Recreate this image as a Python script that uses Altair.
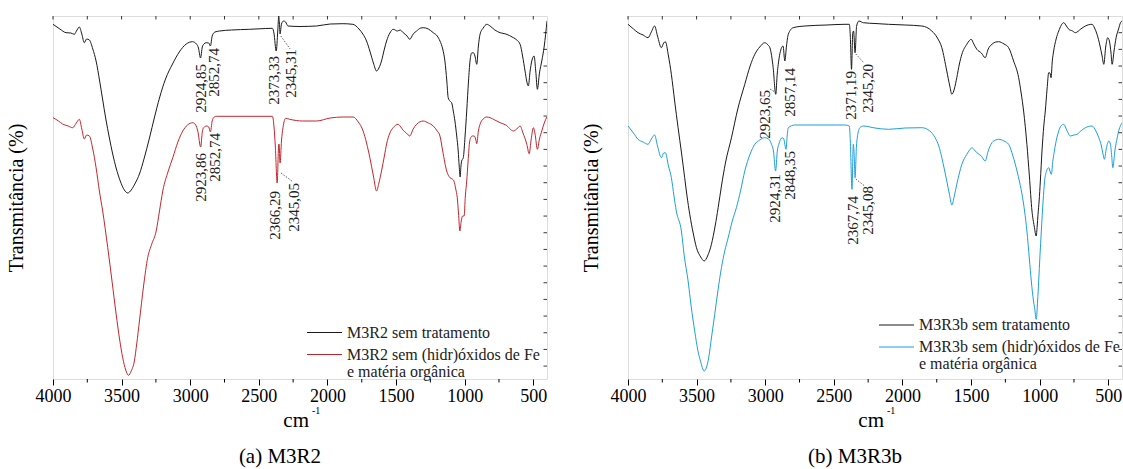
import altair as alt
import pandas as pd

FONT = "Liberation Serif, Times New Roman, DejaVu Serif, serif"

# ---------------- spectra: wavenumber (cm-1) and transmittance (a.u.) ----------------
m3r2_raw_wn = [4000, 3950, 3905, 3870, 3845, 3825, 3808, 3790, 3772, 3755, 3735, 3710, 3686, 3660, 3640,
               3615, 3589, 3565, 3540, 3510, 3480, 3455, 3430, 3400, 3370, 3335, 3297, 3260, 3224, 3180,
               3129, 3080, 3029, 2983, 2955, 2940, 2924.85, 2912, 2900, 2883, 2865, 2852.74, 2840, 2820,
               2786, 2700, 2567, 2450, 2401, 2390, 2373.33, 2362, 2355, 2350, 2345.31, 2335, 2320, 2305,
               2288, 2200, 2080, 1980, 1888, 1815, 1770, 1742, 1715, 1691, 1665, 1642, 1625, 1606, 1585,
               1569, 1545, 1521, 1490, 1470, 1448, 1420, 1400, 1375, 1350, 1320, 1302, 1265, 1229, 1200,
               1180, 1160, 1144, 1130, 1120, 1108, 1095, 1083, 1071, 1058, 1047, 1040, 1033, 1027, 1022,
               1010, 997, 985, 972, 961, 949, 937, 925, 912, 900, 888, 865, 839, 815, 780, 742, 700, 645,
               620, 596, 578, 560, 548, 536, 523, 511, 494, 482, 470, 455, 438, 420, 400]
m3r2_raw_t = [354.7, 350, 346.3, 346, 344.7, 349, 352, 345, 336.3, 340, 339, 330, 318, 298, 281,
              260, 241, 225, 211, 198, 189, 186, 189, 196, 205, 221, 241, 262, 281, 300,
              315, 327, 335, 337.3, 335, 331, 321, 332, 335, 336.3, 336, 333, 343, 347,
              348, 349, 349.7, 350.5, 350.7, 346, 328, 348, 363, 356, 345, 355, 358, 357,
              353, 352.5, 353, 355, 355.3, 354.7, 350, 345, 338, 328, 316, 308, 311, 318, 330,
              338, 346, 349.7, 348, 349, 346.3, 343, 339.7, 345, 348, 351, 351.3, 350, 346.3, 343,
              338, 330, 318, 298, 281.3, 278, 276.3, 268, 258, 243, 228, 213, 202, 213, 218,
              221.3, 243, 268, 298, 318, 326, 326.3, 323, 314.7, 333, 344.7, 351, 354.7, 353, 349, 346.3, 345, 341.3,
              339, 334.7, 323, 308, 298, 293, 308, 318, 323, 308, 289.7, 306, 318, 333, 358]

m3r2_trat_wn = [4000, 3960, 3930, 3890, 3857, 3830, 3808, 3790, 3772, 3755, 3735, 3710, 3686, 3662, 3638,
                3601, 3570, 3540, 3515, 3492, 3470, 3450, 3430, 3407, 3390, 3370, 3340, 3310, 3280, 3248,
                3224, 3200, 3160, 3127, 3090, 3054, 3020, 2981, 2960, 2945, 2923.86, 2912, 2903, 2879, 2865,
                2852.74, 2840, 2825, 2810, 2600, 2401, 2390, 2380, 2366.29, 2356, 2353, 2345.05, 2335, 2324,
                2304, 2275, 2180, 2080, 1980, 1886, 1813, 1775, 1740, 1715, 1691, 1665, 1642, 1625, 1606,
                1585, 1569, 1545, 1521, 1485, 1465, 1448, 1425, 1400, 1375, 1350, 1302, 1265, 1229, 1200,
                1180, 1160, 1131, 1107, 1090, 1078, 1065, 1054, 1045, 1035, 1025, 1015, 1004, 995, 985,
                975, 965, 956, 944, 932, 920, 912, 900, 888, 865, 839, 815, 780, 742, 700, 645, 620, 596,
                575, 547, 530, 515, 499, 487, 470, 455, 438, 420, 401]
m3r2_trat_t = [261.3, 258, 255, 253, 251.3, 256, 259.7, 250, 240, 244, 243, 230, 211.3, 188, 168,
               131.3, 98, 65, 40, 21.3, 9, 3.7, 8, 18, 35, 58, 93, 121.3, 135, 148,
               168, 188, 208, 221.3, 237, 248, 254, 256.3, 254, 248, 232, 247, 251.3, 253, 252,
               247, 258, 262, 262.7, 262.7, 262.7, 253, 233, 196, 233, 235, 216, 238, 251.3,
               260.7, 259.7, 258, 258, 261, 262, 262, 257, 248, 236, 221.3, 203, 188, 196, 208,
               223, 235, 246, 251.3, 254.7, 252, 248.7, 246, 243, 250, 254.7, 258, 256, 253, 248,
               243, 228, 208, 201.3, 200, 198, 190, 181.3, 166, 148, 158, 163, 163, 183, 198,
               218, 236, 241.3, 243, 243, 240, 235.3, 248, 254.7, 260, 262, 261.3, 259, 256.3, 254, 248, 250, 253,
               246, 234.7, 225.3, 240, 251.3, 245, 229.7, 240, 248, 256, 262]

m3r3b_raw_wn = [4000, 3960, 3927, 3890, 3854, 3830, 3806, 3785, 3757, 3740, 3728, 3705, 3684, 3660, 3635,
                3610, 3587, 3570, 3550, 3525, 3501, 3470, 3445, 3420, 3392, 3365, 3343, 3319, 3290, 3246,
                3200, 3149, 3110, 3076, 3040, 3003, 2980, 2966, 2942, 2923.65, 2912, 2905, 2881, 2870,
                2857.14, 2845, 2832, 2796, 2711, 2550, 2419, 2387, 2380, 2371.19, 2362, 2356, 2345.20, 2334,
                2317, 2285, 2200, 2102, 1980, 1859, 1786, 1745, 1713, 1677, 1655, 1640, 1622, 1604, 1585,
                1567, 1531, 1515, 1499, 1480, 1458, 1425, 1397, 1375, 1348, 1320, 1299, 1260, 1226, 1190,
                1153, 1135, 1117, 1093, 1075, 1056, 1040, 1025, 1018, 1012, 1004, 995, 983, 970, 959, 946,
                934, 925, 917, 908, 898, 880, 861, 825, 805, 788, 760, 740, 700, 667, 618, 600, 582, 560,
                545, 533, 518, 504, 492, 480, 472, 458, 443, 425, 411, 400]
m3r3b_raw_t = [354.7, 350, 346.3, 344, 341.3, 347, 353, 343, 331.3, 336, 337.3, 323, 304.7, 278, 251.3,
               226, 201.3, 183, 164.7, 146, 131.3, 122, 118, 123, 134.7, 153, 171.3, 193, 216, 241.3,
               270, 294.7, 313, 324.7, 332, 336.3, 334, 331.3, 311.3, 284.7, 306, 314.7, 331.3, 333,
               318, 333, 344.7, 351.3, 353, 354, 354.7, 354.7, 343, 309.7, 346, 348, 326.3, 353,
               358, 356.3, 355.5, 354.7, 354, 353, 348, 341, 331.3, 308, 293, 284.7, 290, 301.3, 315,
               324.7, 334.7, 338, 339.7, 335, 329.7, 326, 321.3, 330, 334.7, 337, 337.3, 335, 331.3, 318,
               301.3, 286, 268, 234.7, 203, 168, 153, 143, 153, 164.7, 178, 198, 228, 253, 268, 290,
               306.3, 306, 301.3, 318, 328, 340, 348, 356.3, 353, 349.7, 348, 346.3, 350, 353, 354.7, 351, 344.7, 333,
               323, 314.7, 333, 341.3, 338, 326, 314.7, 328, 341.3, 350, 356.3, 358]

m3r3b_trat_wn = [4000, 3960, 3927, 3890, 3854, 3830, 3806, 3785, 3757, 3740, 3728, 3705, 3684, 3665, 3648,
                 3611, 3590, 3562, 3540, 3514, 3490, 3472, 3445, 3425, 3412, 3390, 3368, 3345, 3319, 3295,
                 3270, 3240, 3210, 3180, 3149, 3110, 3076, 3040, 3003, 2975, 2954, 2940, 2924.31, 2912, 2901,
                 2876, 2865, 2848.35, 2840, 2832, 2784, 2600, 2419, 2387, 2380, 2367.74, 2358, 2353, 2345.08,
                 2335, 2329, 2310, 2285, 2200, 2102, 1980, 1859, 1800, 1762, 1735, 1713, 1695, 1677, 1658,
                 1640, 1622, 1604, 1585, 1567, 1531, 1510, 1494, 1475, 1458, 1425, 1397, 1375, 1348, 1320,
                 1299, 1260, 1226, 1195, 1165, 1145, 1129, 1110, 1093, 1075, 1061, 1045, 1037, 1025, 1015,
                 1007, 998, 988, 975, 964, 950, 934, 925, 915, 904, 893, 875, 861, 845, 825, 800, 777, 750,
                 728, 700, 667, 618, 590, 569, 550, 540, 528, 515, 496, 484, 475, 467, 452, 435, 420, 406, 400]
m3r3b_trat_t = [253, 246, 239.7, 237, 234.7, 240, 244, 233, 221.3, 226, 226.3, 213, 201.3, 183, 168,
                148, 123, 98, 73, 48, 28, 18, 8, 13, 21.3, 43, 64.7, 88, 111.3, 128,
                141.3, 158, 171.3, 188, 208, 225, 234.7, 239, 241.3, 240, 234.7, 228, 208, 228, 234.7,
                241.3, 240, 229.7, 243, 251.3, 254, 254, 254, 253, 238, 189.7, 234.7, 228, 201.3,
                233, 241.3, 251.3, 253, 251, 249.7, 251, 251.3, 248, 241.3, 233, 221.3, 210, 198, 185,
                174, 183, 194.7, 206, 214.7, 224.7, 229, 231.3, 229, 226.3, 223, 218, 228, 236.3, 239,
                239.7, 238, 234.7, 223, 208, 196, 185, 168, 148, 120, 98, 78, 71.3, 59.7, 78,
                98, 123, 148, 178, 198, 208, 211.3, 208, 204.7, 218, 228, 241, 248, 253, 254.7, 248, 243, 244,
                244.7, 248, 251.3, 253, 248, 241.3, 233, 226, 219.7, 230, 238, 234.7, 223, 211.3, 228, 241.3, 250, 254.7, 256]

# ---------------- peak labels: text, x (cm-1) and top of the text (a.u.) ----------------
peaks_a_text = ["2924,85", "2852,74", "2373,33", "2345,31", "2923,86", "2852,74", "2366,29", "2345,05"]
peaks_a_wn = [2925, 2830, 2392, 2268, 2925, 2822, 2385, 2246]
peaks_a_top = [315, 331, 323, 330, 226, 246, 188, 196]

peaks_b_text = ["2923,65", "2857,14", "2371,19", "2345,20", "2924,31", "2848,35", "2367,74", "2345,08"]
peaks_b_wn = [2998, 2823, 2377, 2253, 2932, 2816, 2363, 2253]
peaks_b_top = [289, 311, 308, 315, 205, 228, 183, 193]

# dotted leaders from a band to its label
lead_a = {"wn": [2340, 2338], "t": [343, 206], "wn2": [2272, 2250], "t2": [330, 197]}
lead_b = {"wn": [2918, 2340, 2340], "t": [286, 325, 200], "wn2": [2965, 2280, 2275], "t2": [290, 316, 193]}

# ---------------- axes ----------------
PANEL_W = 494
PANEL_H = 363
X_DOMAIN = [4000, 400]
Y_DOMAIN = [0, 363]
MAJOR_TICKS = [4000, 3500, 3000, 2500, 2000, 1500, 1000, 500]
MINOR_TICKS = [3750, 3250, 2750, 2250, 1750, 1250, 750]
TOP_TICKS = list(range(4000, 400, -250))
RIGHT_TICKS = [12.9 + 16.67 * k for k in range(21)]


def spectra_frame(names, wns, ts):
    rows = []
    for name, wn, t in zip(names, wns, ts):
        rows.append(pd.DataFrame({"wn": wn, "t": t, "series": name}))
    return pd.concat(rows, ignore_index=True)


def panel(names, wns, ts, colors, p_text, p_wn, p_top, leads, legend_lines, legend_y, legend_x, caption):
    df = spectra_frame(names, wns, ts)
    x_enc = alt.X("wn:Q", scale=alt.Scale(domain=X_DOMAIN, nice=False, zero=False),
                  axis=alt.Axis(values=MAJOR_TICKS, format="d", title=None, grid=False, domain=False,
                                tickSize=6, tickColor="black", tickWidth=1, labelFlush=False,
                                labelOverlap=False, labelFont=FONT, labelFontSize=18,
                                labelColor="black", labelPadding=2))
    y_enc = alt.Y("t:Q", scale=alt.Scale(domain=Y_DOMAIN, nice=False, zero=False),
                  axis=alt.Axis(title="Transmitância (%)", labels=False, ticks=False, domain=False,
                                grid=False, titleFont=FONT, titleFontSize=20, titleFontWeight="normal",
                                titleColor="black", titlePadding=27))

    lines = alt.Chart(df).mark_line(strokeWidth=1.0, clip=True, interpolate="monotone").encode(
        x=x_enc, y=y_enc,
        color=alt.Color("series:N", scale=alt.Scale(domain=names, range=colors), legend=None),
    )

    labels = alt.Chart(pd.DataFrame({"wn": p_wn, "t": p_top, "label": p_text})).mark_text(
        angle=270, align="right", baseline="middle", font=FONT, fontSize=15, color="#222222"
    ).encode(x="wn:Q", y="t:Q", text="label:N")

    leaders = alt.Chart(pd.DataFrame(leads)).mark_rule(
        strokeDash=[1.5, 1.5], strokeWidth=0.8, color="#333333"
    ).encode(x="wn:Q", y="t:Q", x2="wn2:Q", y2="t2:Q")

    top_ticks = alt.Chart(pd.DataFrame({"wn": TOP_TICKS})).mark_rule(color="black", strokeWidth=0.8).encode(
        x="wn:Q", y=alt.value(0), y2=alt.value(3.5))
    minor_ticks = alt.Chart(pd.DataFrame({"wn": MINOR_TICKS})).mark_rule(color="black", strokeWidth=1).encode(
        x="wn:Q", y=alt.value(PANEL_H), y2=alt.value(PANEL_H + 3.5))
    right_ticks = alt.Chart(pd.DataFrame({"t": RIGHT_TICKS})).mark_rule(color="black", strokeWidth=0.8).encode(
        y="t:Q", x=alt.value(PANEL_W - 3.5), x2=alt.value(PANEL_W))

    layers = [lines, labels, leaders, top_ticks, minor_ticks, right_ticks]

    # legend: a short stroke in the series colour followed by its label lines
    for name, color, ly, text_lines in zip(names, colors, legend_y, legend_lines):
        layers.append(alt.Chart(pd.DataFrame({"series": [name]})).mark_rule(color=color, strokeWidth=1.1).encode(
            x=alt.value(legend_x), x2=alt.value(legend_x + 35), y=alt.value(ly)))
        for i, line in enumerate(text_lines):
            layers.append(alt.Chart(pd.DataFrame({"label": [line]})).mark_text(
                align="left", baseline="middle", font=FONT, fontSize=16, color="#222222"
            ).encode(x=alt.value(legend_x + 40), y=alt.value(ly + 17 * i), text="label:N"))

    # x title "cm-1" with raised exponent, and the panel caption
    layers.append(alt.Chart(pd.DataFrame({"label": ["cm"]})).mark_text(
        align="right", baseline="alphabetic", font=FONT, fontSize=21, color="black"
    ).encode(x=alt.value(PANEL_W / 2 + 9), y=alt.value(PANEL_H + 48), text="label:N"))
    layers.append(alt.Chart(pd.DataFrame({"label": ["-1"]})).mark_text(
        align="left", baseline="alphabetic", font=FONT, fontSize=10, color="black"
    ).encode(x=alt.value(PANEL_W / 2 + 12), y=alt.value(PANEL_H + 35), text="label:N"))
    layers.append(alt.Chart(pd.DataFrame({"label": [caption]})).mark_text(
        align="center", baseline="middle", font=FONT, fontSize=21, color="black"
    ).encode(x=alt.value(PANEL_W / 2 - 20), y=alt.value(PANEL_H + 78), text="label:N"))

    return alt.layer(*layers).properties(width=PANEL_W, height=PANEL_H)


panel_a = panel(
    ["M3R2 sem tratamento", "M3R2 sem (hidr)óxidos de Fe e matéria orgânica"],
    [m3r2_raw_wn, m3r2_trat_wn], [m3r2_raw_t, m3r2_trat_t], ["#1a1a1a", "#c1272d"],
    peaks_a_text, peaks_a_wn, peaks_a_top, lead_a,
    [["M3R2 sem tratamento"], ["M3R2 sem (hidr)óxidos de Fe", "e matéria orgânica"]],
    [316.5, 338.5], 254, "(a) M3R2")

panel_b = panel(
    ["M3R3b sem tratamento", "M3R3b sem (hidr)óxidos de Fe e matéria orgânica"],
    [m3r3b_raw_wn, m3r3b_trat_wn], [m3r3b_raw_t, m3r3b_trat_t], ["#1a1a1a", "#1e9fdc"],
    peaks_b_text, peaks_b_wn, peaks_b_top, lead_b,
    [["M3R3b sem tratamento"], ["M3R3b sem (hidr)óxidos de Fe", "e matéria orgânica"]],
    [309, 331], 251, "(b) M3R3b")

chart = alt.hconcat(panel_a, panel_b, spacing=32).resolve_scale(color="independent").properties(
    padding={"left": 5, "top": 15, "right": 0, "bottom": 0}
).configure_view(stroke="black", strokeWidth=1.2).configure(background="white")

chart.save("out.html", embed_options={"renderer": "svg", "actions": False})
